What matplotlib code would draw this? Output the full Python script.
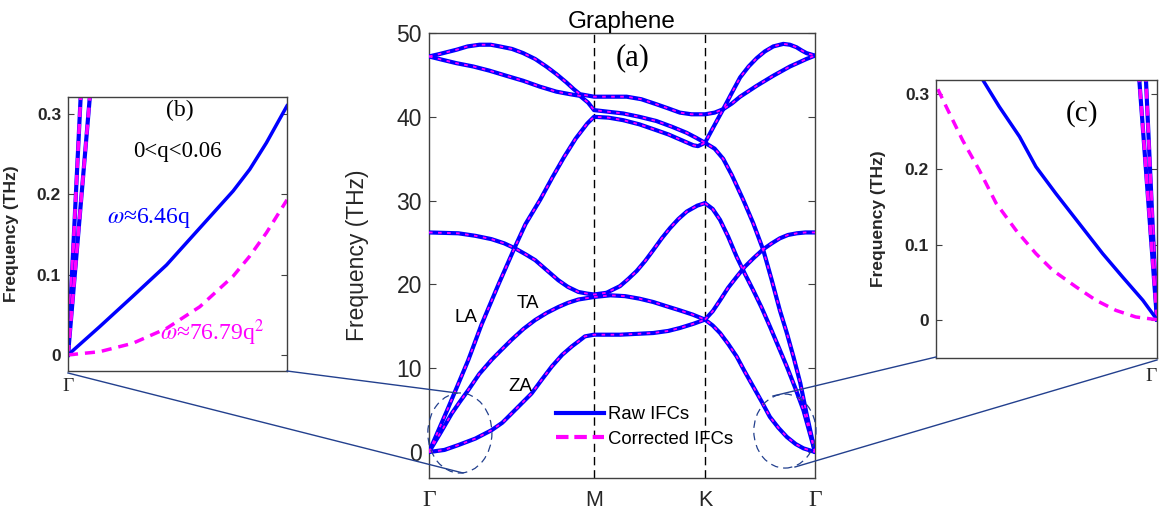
import matplotlib
matplotlib.use('Agg')
import matplotlib.pyplot as plt
from matplotlib.patches import Ellipse
from matplotlib.lines import Line2D

plt.rcParams['mathtext.fontset'] = 'stix'
SANS = ['Liberation Sans', 'DejaVu Sans']
SERIF = ['Liberation Serif', 'DejaVu Serif']

# ---------------- data: main dispersion (path coordinate 0..1) ----------------
tick_pos = [0.0, 0.4275, 0.715, 1.0]
tick_lab = ['Γ', 'M', 'K', 'Γ']

za_x = [0, 0.04, 0.076, 0.12, 0.162, 0.19, 0.214, 0.24, 0.266, 0.29, 0.318, 0.345, 0.370, 0.39, 0.404, 0.4275,
        0.495, 0.581, 0.620, 0.650, 0.685, 0.715, 0.735, 0.754, 0.775, 0.797, 0.818, 0.840, 0.862, 0.883, 0.905,
        0.927, 0.950, 0.970, 1.0]
za_y = [0, 0.25, 0.83, 1.6, 2.6, 3.5, 4.6, 5.8, 7.0, 8.5, 10.2, 11.6, 12.6, 13.3, 13.8, 14.0,
        14.0, 14.2, 14.45, 14.8, 15.3, 15.8, 15.1, 14.2, 12.9, 11.4, 9.6, 7.8, 6.0, 4.2, 2.9,
        1.8, 0.95, 0.44, 0]

ta_x = [0, 0.03, 0.059, 0.08, 0.102, 0.13, 0.162, 0.19, 0.214, 0.245, 0.275, 0.305, 0.335, 0.36, 0.387, 0.4275,
        0.47, 0.508, 0.545, 0.581, 0.615, 0.650, 0.683, 0.715]
ta_y = [0, 2.3, 4.6, 6.0, 7.4, 9.3, 11.0, 12.3, 13.4, 14.7, 15.75, 16.6, 17.3, 17.8, 18.2, 18.5,
        18.7, 18.6, 18.3, 17.9, 17.4, 16.9, 16.4, 15.8]

zo_x = [0, 0.076, 0.12, 0.162, 0.195, 0.223, 0.25, 0.275, 0.305, 0.335, 0.36, 0.387, 0.41, 0.4275, 0.46, 0.495,
        0.515, 0.538, 0.56, 0.581, 0.603, 0.624, 0.646, 0.668, 0.695, 0.715]
zo_y = [26.2, 26.1, 25.8, 25.4, 24.9, 24.3, 23.6, 22.9, 21.7, 20.5, 19.7, 19.1, 18.9, 18.8, 19.0, 19.8,
        20.6, 21.6, 22.8, 24.1, 25.5, 26.7, 27.8, 28.7, 29.4, 29.7]

ta2_x = [0.715, 0.735, 0.754, 0.775, 0.797, 0.818, 0.840, 0.862, 0.883, 0.905, 0.927, 0.950, 0.970, 1.0]
ta2_y = [29.7, 29.0, 27.7, 25.7, 23.3, 21.3, 19.3, 17.2, 15.0, 12.6, 10.2, 7.5, 5.0, 0]

zo2_x = [0.715, 0.735, 0.754, 0.775, 0.797, 0.818, 0.840, 0.866, 0.888, 0.909, 0.93, 0.953, 0.975, 1.0]
zo2_y = [15.8, 16.8, 18.1, 19.6, 20.9, 22.1, 23.1, 24.2, 24.9, 25.5, 25.9, 26.1, 26.2, 26.2]

la_x = [0, 0.05, 0.102, 0.136, 0.18, 0.223, 0.25, 0.288, 0.32, 0.35, 0.38, 0.41, 0.4275,
        0.465, 0.503, 0.545, 0.589, 0.620, 0.650, 0.670, 0.685, 0.697, 0.715,
        0.74, 0.762, 0.785, 0.814, 0.840, 0.866, 0.888, 0.909, 0.927, 0.944, 0.962, 0.978, 1.0]
la_y = [0, 5.3, 11.0, 15.2, 20.0, 24.5, 27.2, 30.1, 32.8, 35.2, 37.4, 39.2, 40.0,
        39.9, 39.6, 39.1, 38.4, 37.9, 37.3, 36.9, 36.6, 36.5, 36.9,
        36.2, 35.0, 33.0, 30.1, 27.3, 24.1, 20.5, 16.9, 14.2, 11.4, 8.2, 4.6, 0]

lo_x = [0, 0.035, 0.071, 0.115, 0.157, 0.2, 0.244, 0.287, 0.330, 0.365, 0.391, 0.412, 0.4275,
        0.465, 0.503, 0.545, 0.589, 0.630, 0.667, 0.692, 0.715,
        0.736, 0.762, 0.785, 0.806, 0.828, 0.849, 0.870, 0.892, 0.918, 0.935, 0.952, 0.966, 0.978, 1.0]
lo_y = [47.2, 46.8, 46.4, 46.0, 45.5, 44.9, 44.3, 43.6, 43.0, 42.7, 42.5, 41.7, 40.8,
        40.6, 40.4, 40.0, 39.5, 38.8, 38.1, 37.5, 36.9,
        38.7, 40.9, 42.9, 44.7, 46.0, 47.0, 47.8, 48.4, 48.7, 48.6, 48.3, 47.9, 47.6, 47.3]

to_x = [0, 0.028, 0.071, 0.10, 0.131, 0.16, 0.183, 0.215, 0.244, 0.275, 0.304, 0.33, 0.356, 0.375, 0.391, 0.4275,
        0.47, 0.512, 0.55, 0.589, 0.620, 0.650, 0.68, 0.715,
        0.74, 0.762, 0.785, 0.806, 0.849, 0.892, 0.935, 0.978, 1.0]
to_y = [47.2, 47.5, 48.0, 48.4, 48.6, 48.6, 48.4, 48.1, 47.6, 46.9, 46.0, 45.1, 44.1, 43.3, 42.7, 42.4,
        42.4, 42.4, 42.1, 41.5, 41.0, 40.5, 40.3, 40.3,
        40.5, 40.9, 41.6, 42.4, 43.7, 44.9, 46.0, 46.9, 47.3]

branches = [(za_x, za_y), (ta_x, ta_y), (zo_x, zo_y), (ta2_x, ta2_y),
            (zo2_x, zo2_y), (la_x, la_y), (lo_x, lo_y), (to_x, to_y)]

# ---------------- data: inset (b), q from Gamma ----------------
b_za_q = [0, 0.0072, 0.0148, 0.0225, 0.0301, 0.0377, 0.0415, 0.0453, 0.05]
b_za_raw = [0, 0.035, 0.073, 0.112, 0.158, 0.204, 0.231, 0.264, 0.31]
b_za_cor = [0, 0.004, 0.0145, 0.033, 0.060, 0.098, 0.123, 0.152, 0.193]
b_la_q = [0, 0.0029]
b_la_f = [0, 0.322]
b_ta_q = [0, 0.0050]
b_ta_f = [0, 0.322]

# ---------------- data: inset (c), q from Gamma (Gamma at right) ----------------
c_raw_q = [0, 0.0032, 0.0078, 0.0123, 0.0176, 0.0229, 0.0274, 0.0311, 0.0357, 0.0394]
c_raw_f = [0, 0.0258, 0.0569, 0.088, 0.128, 0.168, 0.2036, 0.2436, 0.2836, 0.319]
c_cor_q = [0, 0.0048, 0.0093, 0.0138, 0.0183, 0.0236, 0.0274, 0.0319, 0.0364, 0.0402, 0.044, 0.0477, 0.05]
c_cor_f = [0, 0.0036, 0.0124, 0.0258, 0.0436, 0.0658, 0.088, 0.119, 0.155, 0.199, 0.239, 0.2836, 0.312]
c_la_q = [0, 0.0025]
c_la_f = [0, 0.319]
c_ta_q = [0, 0.0040]
c_ta_f = [0, 0.319]

BLUE = '#0000ff'
MAG = '#ff00ff'
FRAME = '#404040'
CONN = '#23408e'

W, H = 1160, 519
fig = plt.figure(figsize=(W / 100, H / 100), dpi=100)


def fr(x0, y0, x1, y1):
    return [x0 / W, 1 - y1 / H, (x1 - x0) / W, (y1 - y0) / H]


def style_frame(a):
    for s in a.spines.values():
        s.set_color(FRAME)
        s.set_linewidth(1.0)


# ---------------- main axes ----------------
ax = fig.add_axes(fr(429, 33, 815, 478))
for bx, by in branches:
    ax.plot(bx, by, color=BLUE, lw=3.0, solid_capstyle='round', solid_joinstyle='round', zorder=3)
for bx, by in branches:
    ax.plot(bx, by, color=MAG, lw=1.3, linestyle=(0, (2.0, 3.0)), zorder=4)
for xp in tick_pos[1:3]:
    ax.axvline(xp, color='black', lw=1.0, linestyle=(0, (6, 3.5)), zorder=2)
ax.set_xlim(0, 1)
ax.set_ylim(-3.1, 50)
ax.set_yticks([0, 10, 20, 30, 40, 50])
ax.set_xticks(tick_pos)
ax.set_xticklabels(tick_lab)
for lab in ax.get_xticklabels():
    if lab.get_text() == 'Γ':
        lab.set_family(SERIF)
        lab.set_fontsize(17)
    else:
        lab.set_family(SANS)
        lab.set_fontsize(15.5)
for lab in ax.get_yticklabels():
    lab.set_family(SANS)
    lab.set_fontsize(16.5)
ax.tick_params(axis='y', direction='in', length=5, right=True, colors=FRAME, labelcolor='#262626', pad=5)
ax.tick_params(axis='x', direction='in', length=0, labelcolor='#262626', pad=9)
style_frame(ax)
ax.set_ylabel('Frequency (THz)', family=SANS, fontsize=16.5, color='#262626')
ax.yaxis.set_label_coords(-0.155, 0.5)
ax.set_title('Graphene', family=SANS, fontsize=17.5, color='black', pad=3)
ax.text(0.528, 47.1, '(a)', family=SERIF, fontsize=22, ha='center', va='center')
ax.text(0.096, 16.0, 'LA', family=SANS, fontsize=13.5, ha='center', va='center')
ax.text(0.257, 17.7, 'TA', family=SANS, fontsize=13.5, ha='center', va='center')
ax.text(0.236, 7.8, 'ZA', family=SANS, fontsize=13.5, ha='center', va='center')

h_raw = Line2D([], [], color=BLUE, lw=3.0)
h_cor = Line2D([], [], color=MAG, lw=3.0, linestyle=(0, (3, 1.4)))
leg = ax.legend([h_raw, h_cor], ['Raw IFCs', 'Corrected IFCs'], loc='center left',
                bbox_to_anchor=(0.306, 0.115), frameon=False, borderpad=0,
                handlelength=2.6, handletextpad=0.2, labelspacing=0.4,
                prop={'family': SANS, 'size': 13.3})

ax.add_patch(Ellipse((0.080, 2.27), 0.166, 9.55, fill=False, edgecolor=CONN, lw=0.9,
                     linestyle=(0, (6, 4)), clip_on=False, zorder=5))
ax.add_patch(Ellipse((0.922, 2.5), 0.161, 8.83, fill=False, edgecolor=CONN, lw=0.9,
                     linestyle=(0, (6, 4)), clip_on=False, zorder=5))

# ---------------- inset (b) ----------------
axb = fig.add_axes(fr(68, 97, 287, 371))
dash_in = (0, (2.9, 2.0))
for q, f in [(b_la_q, b_la_f), (b_ta_q, b_ta_f)]:
    axb.plot(q, f, color=BLUE, lw=3.0)
    axb.plot(q, f, color=MAG, lw=2.5, linestyle=dash_in)
axb.plot(b_za_q, b_za_raw, color=BLUE, lw=2.5)
axb.plot(b_za_q, b_za_cor, color=MAG, lw=2.5, linestyle=dash_in)
axb.set_xlim(0, 0.05)
axb.set_ylim(-0.02, 0.321)
axb.set_yticks([0, 0.1, 0.2, 0.3])
axb.set_yticklabels(['0', '0.1', '0.2', '0.3'])
axb.set_xticks([0])
axb.set_xticklabels(['Γ'], family=SERIF, fontsize=14)
for lab in axb.get_yticklabels():
    lab.set_family(SANS)
    lab.set_fontsize(12.5)
    lab.set_fontweight('bold')
axb.tick_params(axis='y', direction='in', length=4, right=True, colors=FRAME, labelcolor='#262626', pad=5)
axb.tick_params(axis='x', direction='in', length=0, labelcolor='#262626', pad=5)
style_frame(axb)
axb.set_ylabel('Frequency (THz)', family=SANS, fontsize=12.5, fontweight='bold', color='#262626')
axb.yaxis.set_label_coords(-0.225, 0.5)
axb.text(0.51, 0.952, '(b)', transform=axb.transAxes, family=SERIF, fontsize=17,
         ha='center', va='center')
axb.text(0.50, 0.80, '0<q<0.06', transform=axb.transAxes, family=SERIF, fontsize=16.5,
         ha='center', va='center')
axb.text(0.37, 0.56, r'$\omega$≈6.46q', transform=axb.transAxes, family=SERIF, fontsize=17,
         ha='center', va='center', color=BLUE)
axb.text(0.66, 0.14, r'$\omega$≈76.79q$^2$', transform=axb.transAxes, family=SERIF, fontsize=17,
         ha='center', va='center', color=MAG)

# ---------------- inset (c) ----------------
axc = fig.add_axes(fr(936, 80, 1157, 358))
for q, f in [(c_la_q, c_la_f), (c_ta_q, c_ta_f)]:
    axc.plot(q, f, color=BLUE, lw=3.0)
    axc.plot(q, f, color=MAG, lw=2.5, linestyle=dash_in)
axc.plot(c_raw_q, c_raw_f, color=BLUE, lw=2.5)
axc.plot(c_cor_q, c_cor_f, color=MAG, lw=2.5, linestyle=dash_in)
axc.set_xlim(0.05, 0)
axc.set_ylim(-0.051, 0.319)
axc.set_yticks([0, 0.1, 0.2, 0.3])
axc.set_yticklabels(['0', '0.1', '0.2', '0.3'])
axc.set_xticks([0])
axc.set_xticklabels(['Γ'], family=SERIF, fontsize=14)
for lab in axc.get_xticklabels():
    lab.set_horizontalalignment('right')
for lab in axc.get_yticklabels():
    lab.set_family(SANS)
    lab.set_fontsize(12.5)
    lab.set_fontweight('bold')
axc.tick_params(axis='y', direction='in', length=4, right=True, colors=FRAME, labelcolor='#262626', pad=5)
axc.tick_params(axis='x', direction='in', length=0, labelcolor='#262626', pad=7)
style_frame(axc)
axc.set_ylabel('Frequency (THz)', family=SANS, fontsize=12.5, fontweight='bold', color='#262626')
axc.yaxis.set_label_coords(-0.228, 0.5)
axc.text(0.66, 0.88, '(c)', transform=axc.transAxes, family=SERIF, fontsize=21,
         ha='center', va='center')

# ---------------- connector lines (figure pixels) ----------------
for (x0, y0), (x1, y1) in [((68, 373), (463, 473)), ((287, 371), (457, 393)),
                           ((936, 357), (773, 396)), ((1157, 360), (795, 467))]:
    fig.add_artist(Line2D([x0 / W, x1 / W], [1 - y0 / H, 1 - y1 / H],
                          transform=fig.transFigure, color=CONN, lw=1.0))

fig.savefig('out.png', dpi=100)
